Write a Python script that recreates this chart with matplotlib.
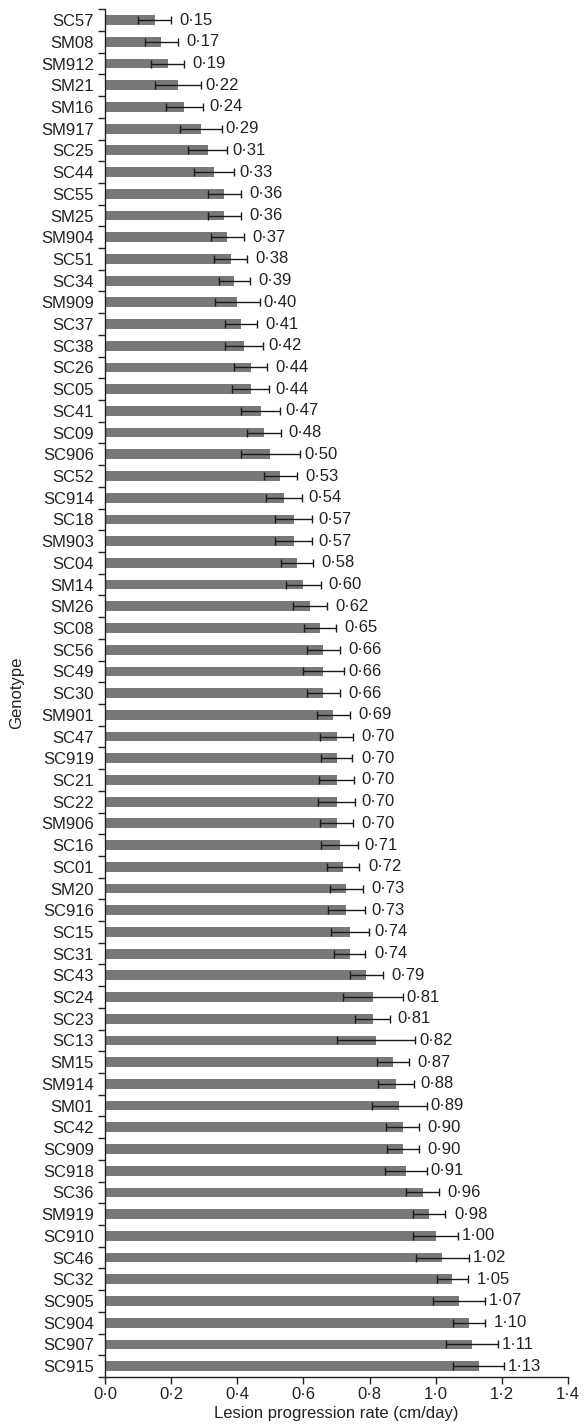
import numpy as np
import matplotlib.pyplot as plt

plt.rcParams['font.family'] = ['Liberation Sans', 'DejaVu Sans']

# genotypes, top to bottom
genotypes = ['SC57', 'SM08', 'SM912', 'SM21', 'SM16', 'SM917', 'SC25', 'SC44', 'SC55', 'SM25',
             'SM904', 'SC51', 'SC34', 'SM909', 'SC37', 'SC38', 'SC26', 'SC05', 'SC41', 'SC09',
             'SC906', 'SC52', 'SC914', 'SC18', 'SM903', 'SC04', 'SM14', 'SM26', 'SC08', 'SC56',
             'SC49', 'SC30', 'SM901', 'SC47', 'SC919', 'SC21', 'SC22', 'SM906', 'SC16', 'SC01',
             'SM20', 'SC916', 'SC15', 'SC31', 'SC43', 'SC24', 'SC23', 'SC13', 'SM15', 'SM914',
             'SM01', 'SC42', 'SC909', 'SC918', 'SC36', 'SM919', 'SC910', 'SC46', 'SC32', 'SC905',
             'SC904', 'SC907', 'SC915']
rates = [0.15, 0.17, 0.19, 0.22, 0.24, 0.29, 0.31, 0.33, 0.36, 0.36,
         0.37, 0.38, 0.39, 0.40, 0.41, 0.42, 0.44, 0.44, 0.47, 0.48,
         0.50, 0.53, 0.54, 0.57, 0.57, 0.58, 0.60, 0.62, 0.65, 0.66,
         0.66, 0.66, 0.69, 0.70, 0.70, 0.70, 0.70, 0.70, 0.71, 0.72,
         0.73, 0.73, 0.74, 0.74, 0.79, 0.81, 0.81, 0.82, 0.87, 0.88,
         0.89, 0.90, 0.90, 0.91, 0.96, 0.98, 1.00, 1.02, 1.05, 1.07,
         1.10, 1.11, 1.13]
# standard errors (estimated)
errors = [0.05, 0.05, 0.05, 0.07, 0.055, 0.063, 0.06, 0.06, 0.05, 0.05,
          0.05, 0.05, 0.047, 0.067, 0.048, 0.057, 0.049, 0.055, 0.058, 0.052,
          0.09, 0.05, 0.054, 0.055, 0.056, 0.048, 0.054, 0.051, 0.047, 0.049,
          0.062, 0.05, 0.05, 0.049, 0.048, 0.053, 0.056, 0.051, 0.056, 0.048,
          0.049, 0.057, 0.057, 0.047, 0.05, 0.09, 0.053, 0.118, 0.048, 0.055,
          0.083, 0.049, 0.048, 0.063, 0.049, 0.049, 0.068, 0.081, 0.047, 0.079,
          0.049, 0.078, 0.077]
xticks = [0.0, 0.2, 0.4, 0.6, 0.8, 1.0, 1.2, 1.4]

fs = 12
dark = '#222222'

fig = plt.figure(figsize=(5.84, 14.25), dpi=100)
ax = fig.add_axes([0.18, 0.0337, 0.7926, 0.9598])

y = np.arange(len(genotypes))
ax.barh(y, rates, height=0.45, color='#78787b', zorder=2)
ax.errorbar(rates, y, xerr=errors, fmt='none', ecolor='#1a1a1a',
            elinewidth=1.0, capsize=3.2, capthick=1.0, zorder=3)

for yi, v, e in zip(y, rates, errors):
    xt = max(v + 0.075, v + e + 0.012)
    ax.text(xt, yi, f'{v:.2f}'.replace('.', '\u00b7'), va='center', ha='left',
            fontsize=fs, color=dark)

ax.set_xlim(0, 1.4)
ax.set_ylim(len(genotypes) - 0.5, -0.5)
ax.set_xticks(xticks)
ax.set_xticklabels([f'{t:.1f}'.replace('.', '\u00b7') for t in xticks])
ax.set_yticks(y)
ax.set_yticklabels(genotypes)
ax.set_yticks(np.arange(-0.5, len(genotypes), 1), minor=True)
ax.tick_params(axis='y', which='major', length=0, pad=8, labelsize=fs, labelcolor=dark)
ax.tick_params(axis='y', which='minor', length=5, width=1, direction='out', color=dark)
ax.tick_params(axis='x', length=5, width=1, direction='out', pad=2, labelsize=fs,
               labelcolor=dark, color=dark)

for s in ['top', 'right']:
    ax.spines[s].set_visible(False)
for s in ['left', 'bottom']:
    ax.spines[s].set_color(dark)
    ax.spines[s].set_linewidth(1)

ax.set_xlabel('Lesion progression rate (cm/day)', fontsize=fs, color=dark, labelpad=3)
ax.set_ylabel('Genotype', fontsize=fs, color=dark)
ax.yaxis.set_label_coords(-0.175, 0.5)

fig.savefig('out.png', dpi=100)
